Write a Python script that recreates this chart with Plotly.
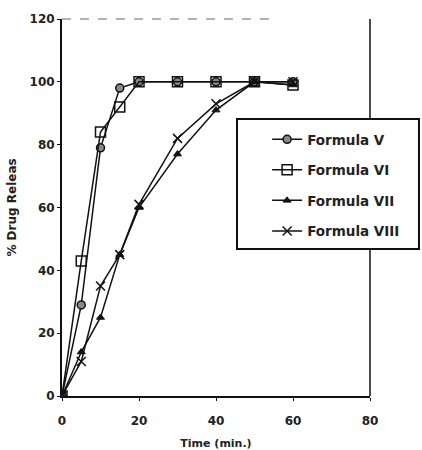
import plotly.graph_objects as go

time_min = [0, 5, 10, 15, 20, 30, 40, 50, 60]
formula_v = [0, 29, 79, 98, 100, 100, 100, 100, 100]
formula_vi = [0, 43, 84, 92, 100, 100, 100, 100, 99]
formula_vii = [0, 14, 25, 45, 60, 77, 91, 100, 99]
formula_viii = [0, 11, 35, 45, 61, 82, 93, 100, 100]
series_names = ["Formula V", "Formula VI", "Formula VII", "Formula VIII"]
x_ticks = [0, 20, 40, 60, 80]
y_ticks = [0, 20, 40, 60, 80, 100, 120]

FONT = "DejaVu Sans"
fig = go.Figure()

styles = [
    dict(symbol="circle", size=8, color="#8a8a8a", line=dict(color="#111", width=1.5)),
    dict(symbol="square-open", size=10, color="#111", line=dict(color="#111", width=1.5)),
    dict(symbol="triangle-up", size=7, color="#111", line=dict(color="#111", width=1)),
    dict(symbol="x-thin-open", size=9, color="#111", line=dict(color="#111", width=1.5)),
]
for i, (name, ys) in enumerate(zip(series_names, [formula_v, formula_vi, formula_vii, formula_viii])):
    fig.add_trace(go.Scatter(
        x=time_min, y=ys, name=name, mode="lines+markers",
        line=dict(color="#111", width=1.5),
        marker=styles[i], legendgroup=f"g{i}",
    ))

fig.update_layout(
    width=422, height=450,
    margin=dict(l=62, r=52, t=19, b=54, autoexpand=False),
    plot_bgcolor="white", paper_bgcolor="white",
    font=dict(family=FONT, color="#222", size=12, weight="bold"),
    showlegend=True,
    legend=dict(
        x=0.666, y=0.7215, xanchor="left", yanchor="top",
        borderwidth=0, bgcolor="rgba(0,0,0,0)",
        font=dict(family=FONT, size=13.5, color="#222", weight="bold"),
        traceorder="grouped", tracegroupgap=10, itemwidth=30,
    ),
    xaxis=dict(
        range=[0, 80], tickvals=x_ticks, showgrid=False, zeroline=False,
        showline=True, linecolor="#111", linewidth=2, automargin=False,
        ticks="outside", ticklen=3, tickcolor="#111",
        ticklabelstandoff=10,
        title=dict(text="Time (min.)", standoff=30, font=dict(size=11)),
    ),
    yaxis=dict(
        range=[0, 120], tickvals=y_ticks, showgrid=False, zeroline=False,
        showline=True, linecolor="#111", linewidth=2, automargin=False,
        ticks="outside", ticklen=3, tickcolor="#111",
        title=dict(text="% Drug Releas", standoff=10, font=dict(size=12)),
    ),
    shapes=[
        dict(type="line", xref="paper", yref="paper", x0=0, x1=0.7, y0=1, y1=1,
             line=dict(color="#999", width=1.5, dash="dash")),
        dict(type="line", xref="paper", yref="paper", x0=1, x1=1, y0=0, y1=1,
             line=dict(color="#111", width=1.5)),
        dict(type="rect", xref="paper", yref="paper", x0=0.5682, x1=1.159,
             y0=0.3899, y1=0.7347, fillcolor="white",
             line=dict(color="#111", width=2)),
    ],
)

fig.write_html("out.html")
